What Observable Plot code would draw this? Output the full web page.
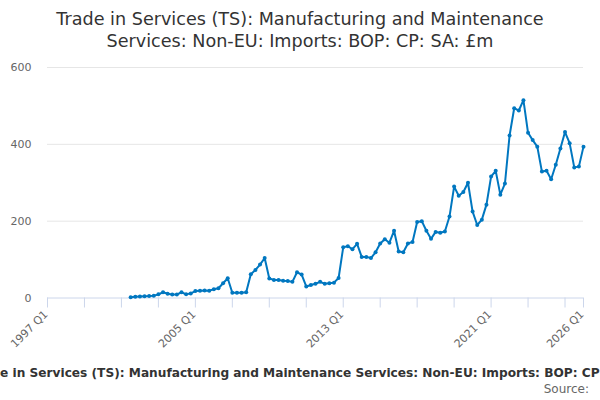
<!DOCTYPE html>
<html><head><meta charset="utf-8">
<script src="https://cdn.jsdelivr.net/npm/d3@7"></script>
<script src="https://cdn.jsdelivr.net/npm/@observablehq/plot@0.6"></script>
<style>
body{margin:0;background:#fff;}
#wrap{position:relative;width:600px;height:400px;overflow:hidden;font-family:"DejaVu Sans",sans-serif;}
#title{position:absolute;top:8px;left:0;width:600px;text-align:center;font-size:17.6px;line-height:22px;color:#333;}
#chart{position:absolute;top:0;left:0;}
#caption{position:absolute;top:366px;left:0;white-space:nowrap;font-weight:bold;color:#333;}
#source{position:absolute;top:382px;right:11px;font-size:12px;color:#666;}
</style></head><body>
<div id="wrap">
<div id="chart"></div>
<div id="title">Trade in Services (TS): Manufacturing and Maintenance<br>Services: Non-EU: Imports: BOP: CP: SA: £m</div>
<div id="caption"></div>
<div id="source">Source:</div>
</div>
<script>
const titleText = "Trade in Services (TS): Manufacturing and Maintenance Services: Non-EU: Imports: BOP: CP: SA: £m";
const firstYear = 2001, firstQuarter = 3;
const values = [
  2, 3, 4, 4.5, 5, 6, 9.5, 15, 11, 9, 9, 15, 9.5, 12, 18, 19,
  19.5, 19, 23, 25.5, 38.5, 51.5, 13.5, 13.5, 13.5, 15, 62, 73, 87, 104,
  51, 47, 47, 45, 44, 42, 67, 61, 30, 34, 37, 42, 37, 38.5, 40, 52,
  132, 135, 127, 141, 107, 107, 104, 119, 142, 153, 144, 175, 121, 119, 142, 146,
  198, 200, 175, 154, 172, 170, 173, 212, 290, 266, 276, 300, 225, 190, 204, 243,
  316, 331, 269, 298, 423, 494, 488, 515, 430, 411, 394, 329, 331, 309, 347, 389,
  432, 403, 340, 342, 394
];
const tickYears = [1997,1999,2001,2003,2005,2007,2009,2011,2013,2015,2017,2019,2021,2023,2025,2026];
const labelYears = [1997,2005,2013,2021,2026];
const yTicks = [0,200,400,600];

const data = values.map((v,k)=>{
  const q = firstQuarter-1+k;
  const yr = firstYear + Math.floor(q/4);
  return {x: yr + (q%4)/4, period: `${yr} Q${q%4+1}`, v};
});

const color = "#0077c0";
const mTop = 67, mBottom = 102.5, H = 400;
const plotH = H - mTop - mBottom;
const chart = Plot.plot({
  width:600, height:H,
  marginTop:mTop, marginBottom:mBottom, marginLeft:47, marginRight:17,
  x:{domain:[1997,2026], axis:null},
  y:{domain:[0,600], axis:null},
  style:{fontFamily:"DejaVu Sans", background:"transparent", overflow:"visible"},
  marks:[
    Plot.gridY(yTicks.filter(d=>d>0), {stroke:"#e6e6e6", strokeOpacity:1}),
    Plot.tickX(tickYears, {x:d=>d, stroke:"#ccd6eb", insetTop:plotH-10, dy:10, strokeWidth:1}),
    Plot.ruleY([0], {stroke:"#ccd6eb"}),
    Plot.text(labelYears, {
      x:d=>d, y:0, text:d=>`${d} Q1`, rotate:-45,
      textAnchor:"end", lineAnchor:"bottom", dx:1, dy:17,
      fontSize:11, fill:"#666"
    }),
    Plot.axisY(yTicks, {tickSize:0, tickPadding:16, fill:"#666", fontSize:11, label:null}),
    Plot.line(data, {x:"x", y:"v", stroke:color, strokeWidth:2}),
    Plot.dot(data, {x:"x", y:"v", r:2, fill:color})
  ]
});
document.getElementById("chart").appendChild(chart);

const cap = document.getElementById("caption");
cap.textContent = titleText;
const ctx = document.createElement("canvas").getContext("2d");
ctx.font = "bold 13px 'DejaVu Sans'";
const visible = "e in Services (TS): Manufacturing and Maintenance Services: Non-EU: Imports: BOP: CP";
const fs = 13 * 600 / ctx.measureText(visible).width;
cap.style.fontSize = fs + "px";
ctx.font = `bold ${fs}px 'DejaVu Sans'`;
cap.style.left = (-ctx.measureText("Trad").width) + "px";
</script>
</body></html>
